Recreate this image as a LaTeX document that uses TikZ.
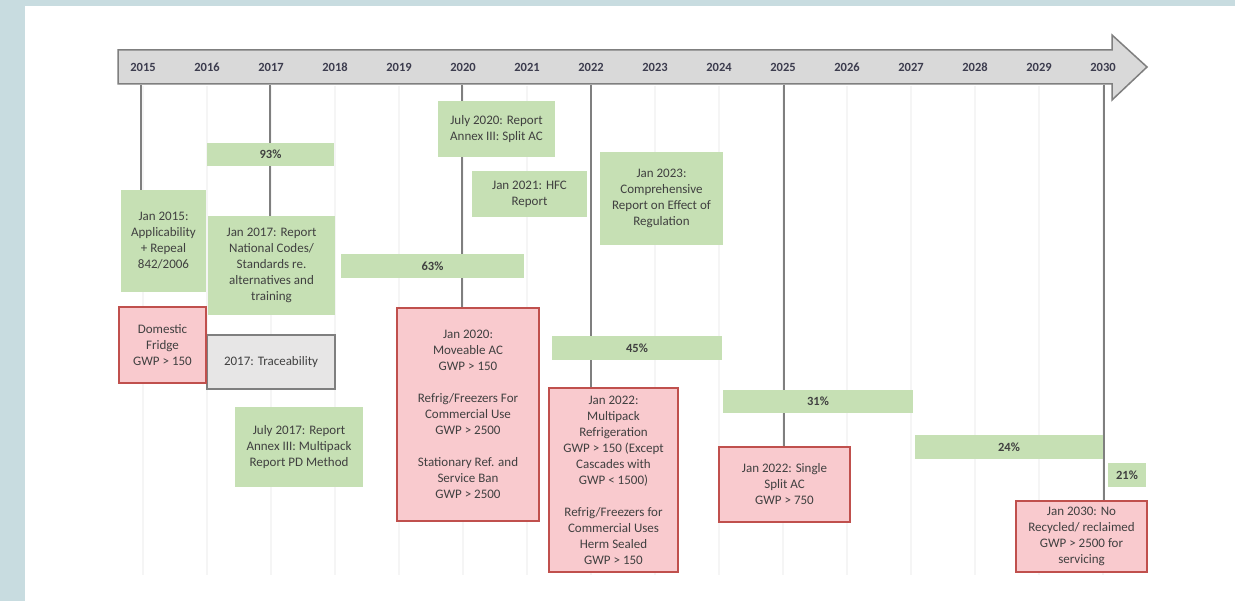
\documentclass[tikz,border=0pt]{standalone}
\usepackage{fontspec}
\setmainfont{Carlito}
\definecolor{bgblue}{RGB}{200,220,224}
\definecolor{gfill}{RGB}{198,224,180}
\definecolor{rfill}{RGB}{249,202,206}
\definecolor{rdraw}{RGB}{192,80,77}
\definecolor{grfill}{RGB}{231,230,230}
\definecolor{grdraw}{RGB}{127,127,127}
\definecolor{arrfill}{RGB}{217,217,217}
\definecolor{txt}{RGB}{64,64,64}
\definecolor{yeartxt}{RGB}{60,60,78}
\pgfdeclarelayer{bg}
\pgfdeclarelayer{lines}
\pgfsetlayers{bg,lines,main}
\tikzset{
  base/.style={inner sep=0pt, align=center, text=txt, font=\fontsize{13}{16}\selectfont},
  gbox/.style={base, fill=gfill},
  pbar/.style={base, fill=gfill, font=\fontsize{12.5}{14}\selectfont\bfseries},
  rbox/.style={base, fill=rfill, draw=rdraw, line width=1.5pt},
  greybox/.style={base, fill=grfill, draw=grdraw, line width=1.5pt},
  yearlbl/.style={inner sep=0pt, text height=9pt, text depth=0pt, text=yeartxt, font=\fontsize{12.5}{14}\selectfont\bfseries},
  vline/.style={draw=grdraw, line width=1.5pt},
  gridline/.style={draw=black!4, line width=1.5pt}
}
\begin{document}
\begin{tikzpicture}[x=1pt,y=-1pt]
\useasboundingbox (0,0) rectangle (1235,601);
\begin{pgfonlayer}{bg}
\fill[bgblue] (0,0) rectangle (1235,601);
\fill[white] (25,6) rectangle (1235,601);
\foreach \k in {0,...,15} {
  \draw[gridline] ({143+64*\k},86) -- ({143+64*\k},575);
}
\end{pgfonlayer}
% arrow
\draw[fill=arrfill, draw=grdraw, line width=1.5pt]
  (118,50) -- (1112,50) -- (1112,35) -- (1147,67) -- (1112,100) -- (1112,84) -- (118,84) -- cycle;
% year labels
\foreach \yr [count=\k from 0] in {2015,2016,2017,2018,2019,2020,2021,2022,2023,2024,2025,2026,2027,2028,2029,2030} {
  \node[yearlbl] (y\yr) at ({143+64*\k},67) {\yr};
}
\coordinate (t15) at (141,85);
\coordinate (t17) at (270,85);
\coordinate (t20) at (462,85);
\coordinate (t22) at (591,85);
\coordinate (t25) at (784,85);
\coordinate (t30) at (1104,85);
% green boxes
\node[gbox, minimum width=85pt, minimum height=102pt] (jan15) at (163.5,241) {Jan 2015:\\Applicability\\+ Repeal\\842/2006};
\node[pbar, minimum width=127pt, minimum height=23pt] (p93) at (270.5,154.5) {93\%};
\node[gbox, minimum width=127pt, minimum height=99pt] (jan17) at (271.5,265.5) {Jan 2017: Report\\National Codes/\\Standards re.\\alternatives and\\training};
\node[gbox, minimum width=117pt, minimum height=56pt] (jul20) at (496.5,129) {July 2020: Report\\Annex III: Split AC};
\node[gbox, minimum width=115pt, minimum height=46pt] (jan21) at (529.5,194) {Jan 2021: HFC\\Report};
\node[gbox, minimum width=123pt, minimum height=93pt] (jan23) at (661.5,198.5) {Jan 2023:\\Comprehensive\\Report on Effect of\\Regulation};
\node[pbar, minimum width=183pt, minimum height=24pt] (p63) at (432.5,266) {63\%};
\node[greybox, minimum width=128pt, minimum height=54pt] (trace) at (271,362) {2017: Traceability};
\node[gbox, minimum width=128pt, minimum height=80pt] (jul17) at (299,447) {July 2017: Report\\Annex III: Multipack\\Report PD Method};
\node[pbar, minimum width=170pt, minimum height=24pt] (p45) at (637,348) {45\%};
\node[pbar, minimum width=190pt, minimum height=23pt] (p31) at (818,401.5) {31\%};
\node[pbar, minimum width=188pt, minimum height=24pt] (p24) at (1009,447) {24\%};
\node[pbar, minimum width=38pt, minimum height=24pt] (p21) at (1127,475) {21\%};
% red boxes
\node[rbox, minimum width=87pt, minimum height=76pt] (fridge) at (162.5,345) {Domestic\\Fridge\\GWP > 150};
\node[rbox, minimum width=142pt, minimum height=213pt] (jan20) at (468,414.5) {Jan 2020:\\Moveable AC\\GWP > 150\\[16pt]Refrig/Freezers For\\Commercial Use\\GWP > 2500\\[16pt]Stationary Ref. and\\Service Ban\\GWP > 2500};
\node[rbox, minimum width=129pt, minimum height=184pt] (jan22) at (613.5,480) {Jan 2022:\\Multipack\\Refrigeration\\GWP > 150 (Except\\Cascades with\\GWP < 1500)\\[16pt]Refrig/Freezers for\\Commercial Uses\\Herm Sealed\\GWP > 150};
\node[rbox, minimum width=131pt, minimum height=75pt] (split) at (784.5,484.5) {Jan 2022: Single\\Split AC\\GWP > 750};
\node[rbox, minimum width=131pt, minimum height=71pt] (jan30) at (1081.5,536.5) {Jan 2030: No\\Recycled/ reclaimed\\GWP > 2500 for\\servicing};
% connectors behind boxes
\begin{pgfonlayer}{lines}
\draw[vline] (t15) -- (t15 |- jan15.north);
\draw[vline] (t17) -- (t17 |- jan17.north);
\draw[vline] (t20) -- (t20 |- jan20.north);
\draw[vline] (t22) -- (t22 |- jan22.north);
\draw[vline] (t25) -- (t25 |- split.north);
\draw[vline] (t30) -- (t30 |- jan30.north);
\end{pgfonlayer}
\end{tikzpicture}
\end{document}
